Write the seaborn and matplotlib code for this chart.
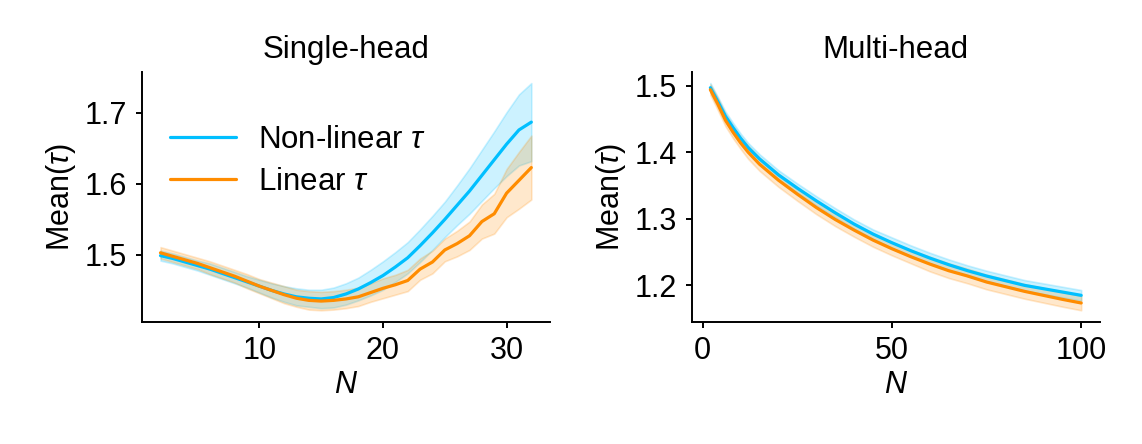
import numpy as np
import pandas as pd
import matplotlib
matplotlib.use("Agg")
import matplotlib.pyplot as plt
import seaborn as sns

# =========================
# DATA
# =========================

# single-head: N = 2 .. 32
single_n = list(range(2, 33))

single_nonlin = [1.499, 1.495, 1.490, 1.485, 1.480, 1.474, 1.468, 1.462, 1.456, 1.450,
                 1.445, 1.441, 1.439, 1.438, 1.440, 1.445, 1.452, 1.461, 1.471, 1.483,
                 1.496, 1.513, 1.531, 1.550, 1.570, 1.590, 1.612, 1.634, 1.656, 1.676,
                 1.687]
single_nonlin_ci = [0.007, 0.007, 0.007, 0.007, 0.008, 0.008, 0.008, 0.008, 0.009, 0.010,
                    0.011, 0.012, 0.012, 0.013, 0.014, 0.015, 0.016, 0.018, 0.020, 0.021,
                    0.022, 0.023, 0.024, 0.025, 0.028, 0.032, 0.036, 0.040, 0.045, 0.050,
                    0.055]

single_lin = [1.503, 1.498, 1.493, 1.488, 1.482, 1.476, 1.470, 1.463, 1.456, 1.450,
              1.444, 1.439, 1.436, 1.435, 1.436, 1.438, 1.441, 1.447, 1.453, 1.458,
              1.464, 1.480, 1.490, 1.507, 1.516, 1.527, 1.547, 1.558, 1.587, 1.605,
              1.623]
single_lin_ci = [0.008, 0.008, 0.008, 0.008, 0.009, 0.009, 0.009, 0.010, 0.010, 0.011,
                 0.012, 0.012, 0.013, 0.013, 0.013, 0.013, 0.013, 0.013, 0.014, 0.014,
                 0.015, 0.015, 0.016, 0.016, 0.018, 0.020, 0.024, 0.028, 0.034, 0.040,
                 0.045]

# multi-head
multi_n = [2, 4, 6, 8, 10, 12, 15, 20, 25, 30, 35, 40, 45, 50, 55, 60, 65, 70, 75, 80,
           85, 90, 95, 100]

multi_nonlin = [1.497, 1.476, 1.454, 1.437, 1.421, 1.407, 1.390, 1.366, 1.346, 1.327,
                1.309, 1.292, 1.277, 1.264, 1.252, 1.241, 1.231, 1.222, 1.214, 1.207,
                1.200, 1.195, 1.190, 1.185]
multi_nonlin_ci = [0.007, 0.007, 0.007, 0.007, 0.007, 0.007, 0.007, 0.007, 0.007, 0.007,
                   0.007, 0.007, 0.007, 0.008, 0.008, 0.008, 0.008, 0.008, 0.008, 0.008,
                   0.008, 0.008, 0.008, 0.008]

multi_lin = [1.494, 1.472, 1.448, 1.430, 1.414, 1.400, 1.382, 1.358, 1.337, 1.317,
             1.299, 1.283, 1.268, 1.255, 1.243, 1.232, 1.222, 1.214, 1.205, 1.198,
             1.191, 1.185, 1.179, 1.1735]
multi_lin_ci = [0.008, 0.009, 0.009, 0.009, 0.009, 0.010, 0.010, 0.010, 0.010, 0.010,
                0.010, 0.010, 0.010, 0.010, 0.010, 0.011, 0.011, 0.011, 0.011, 0.011,
                0.011, 0.011, 0.011, 0.011]

labels = ["Non-linear $\\tau$", "Linear $\\tau$"]
colors = ["#00BFFF", "#FF8C00"]

# =========================
# STYLE
# =========================

sns.set_style("ticks")
plt.rcParams["font.family"] = ["Liberation Sans", "DejaVu Sans"]
plt.rcParams["mathtext.fontset"] = "custom"
plt.rcParams["mathtext.rm"] = "Liberation Sans"
plt.rcParams["mathtext.it"] = "Liberation Sans:italic"
plt.rcParams["font.size"] = 22
for key in ["text.color", "axes.labelcolor", "xtick.color", "ytick.color", "axes.edgecolor"]:
    plt.rcParams[key] = "black"
plt.rcParams["axes.linewidth"] = 1.4
plt.rcParams["xtick.major.width"] = 1.4
plt.rcParams["ytick.major.width"] = 1.4
plt.rcParams["xtick.major.size"] = 4.5
plt.rcParams["ytick.major.size"] = 4.5
plt.rcParams["xtick.major.pad"] = 6
plt.rcParams["ytick.major.pad"] = 6


def make_df(n, nonlin, nonlin_ci, lin, lin_ci):
    a = pd.DataFrame({"N": n, "mean": nonlin, "ci": nonlin_ci, "kind": labels[0]})
    b = pd.DataFrame({"N": n, "mean": lin, "ci": lin_ci, "kind": labels[1]})
    return pd.concat([a, b], ignore_index=True)


single_df = make_df(single_n, single_nonlin, single_nonlin_ci, single_lin, single_lin_ci)
multi_df = make_df(multi_n, multi_nonlin, multi_nonlin_ci, multi_lin, multi_lin_ci)

# =========================
# PLOT
# =========================

fig, axes = plt.subplots(1, 2, figsize=(11.42, 4.44), dpi=100)
fig.subplots_adjust(left=0.1243, right=0.963, bottom=0.2755, top=0.8385, wspace=0.348)

for ax, df, title in zip(axes, [single_df, multi_df], ["Single-head", "Multi-head"]):
    for label, color in zip(labels, colors):
        sub = df[df["kind"] == label]
        ax.fill_between(sub["N"], sub["mean"] - sub["ci"], sub["mean"] + sub["ci"],
                        color=color, alpha=0.2, linewidth=1.2, edgecolor=color)
    sns.lineplot(data=df, x="N", y="mean", hue="kind", palette=colors,
                 linewidth=2.3, ax=ax, legend=False)
    ax.set_title(title, fontsize=22.5, pad=10)
    ax.set_xlabel("$N$", labelpad=3)
    ax.set_ylabel("Mean($\\tau$)", labelpad=5)
    sns.despine(ax=ax)

axes[0].set_xticks([10, 20, 30])
axes[0].set_yticks([1.5, 1.6, 1.7])
axes[1].set_xticks([0, 50, 100])
axes[1].set_yticks([1.2, 1.3, 1.4, 1.5])

handles = [plt.Line2D([], [], color=c, linewidth=2.3) for c in colors]
axes[0].legend(handles, labels, loc="upper left", frameon=False, fontsize=22.5,
               bbox_to_anchor=(0.0, 0.9), handlelength=2.1, handletextpad=0.72,
               labelspacing=0.4)

plt.savefig("out.png", dpi=100)
